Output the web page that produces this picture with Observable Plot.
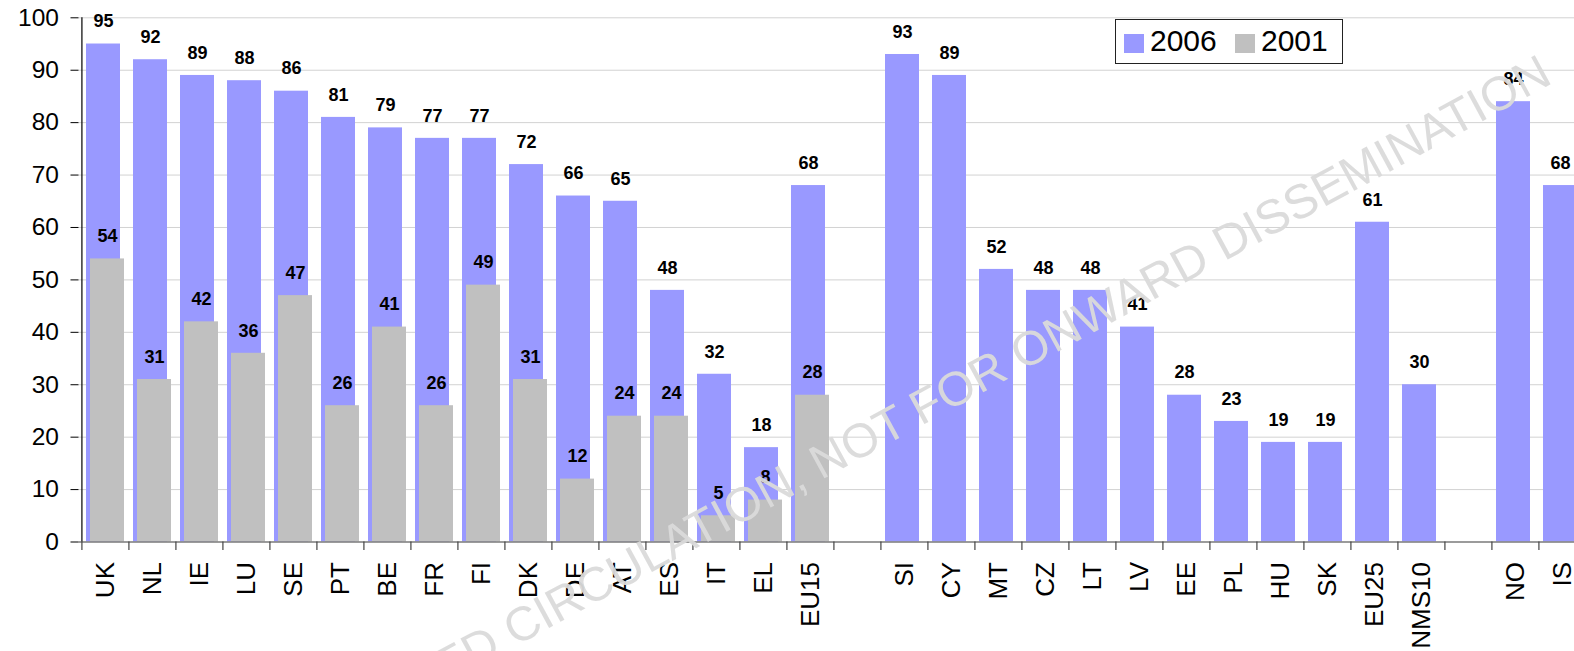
<!DOCTYPE html>
<html>
<head>
<meta charset="utf-8">
<script src="https://cdn.jsdelivr.net/npm/d3@7"></script>
<script src="https://cdn.jsdelivr.net/npm/@observablehq/plot@0.6"></script>
<style>
  html, body { margin: 0; padding: 0; background: #fff; width: 1574px; height: 651px; overflow: hidden; }
  #wrap { position: relative; width: 1574px; height: 651px; overflow: hidden; font-family: Arial, "Liberation Sans", sans-serif; }
  #chart { position: absolute; left: 0; top: 0; width: 1600px; }
  #chart svg { max-width: none !important; height: 651px !important; }
  #legend { position: absolute; left: 1115px; top: 19px; width: 226px; height: 43px; border: 1px solid #222; background: #fff; font-size: 30px; color: #000; }
  #legend .sw { position: absolute; top: 14px; width: 20px; height: 19px; }
  #legend .lb { position: absolute; top: 4px; line-height: 34px; }
  #wm { position: absolute; left: 0; top: 0; pointer-events: none; }
</style>
</head>
<body>
<div id="wrap">
  <div id="chart"></div>
  <div id="legend"></div>
  <svg id="wm" width="1574" height="651"></svg>
</div>
<script>
// ---- data ----
const groupEU15 = ["UK","NL","IE","LU","SE","PT","BE","FR","FI","DK","DE","AT","ES","IT","EL","EU15"];
const groupNMS = ["SI","CY","MT","CZ","LT","LV","EE","PL","HU","SK","EU25","NMS10"];
const groupOther = ["NO","IS"];
const values2006EU15 = [95,92,89,88,86,81,79,77,77,72,66,65,48,32,18,68];
const values2006NMS = [93,89,52,48,48,41,28,23,19,19,61,30];
const values2006Other = [84,68];
const values2001EU15 = [54,31,42,36,47,26,41,26,49,31,12,24,24,5,8,28];
const seriesNames = ["2006","2001"];
const seriesColors = ["#9999ff","#c0c0c0"];
const yTicks = [0,10,20,30,40,50,60,70,80,90,100];
const watermark = "LIMITED CIRCULATION, NOT FOR ONWARD DISSEMINATION";

// ---- build tables ----
const gapA = "gap-a", gapB = "gap-b";
const domain = [...groupEU15, gapA, ...groupNMS, gapB, ...groupOther];
const d2006 = [
  ...groupEU15.map((c,i)=>({cat:c, value:values2006EU15[i]})),
  ...groupNMS.map((c,i)=>({cat:c, value:values2006NMS[i]})),
  ...groupOther.map((c,i)=>({cat:c, value:values2006Other[i]}))
];
const d2001 = groupEU15.map((c,i)=>({cat:c, value:values2001EU15[i]}));

const W = 1600, H = 651;
const mL = 78.5, mT = 17.3, mB = 109.5;
const step = 47.17;
const mR = W - mL - step*domain.length;
const font = 'Arial, "Liberation Sans", sans-serif';

const chart = Plot.plot({
  width: W, height: H,
  marginLeft: mL, marginRight: mR, marginTop: mT, marginBottom: mB,
  style: {fontFamily: font, background: "white", color: "#000", overflow: "visible", maxWidth: "none"},
  x: {domain, paddingInner: 0.28, paddingOuter: 0.14, align: 0.5, label: null},
  y: {domain: [0,100], label: null},
  marks: [
    Plot.gridY(yTicks.filter(t=>t>0), {stroke: "#d2d2d2", strokeOpacity: 1, strokeWidth: 1}),
    Plot.barY(d2006, {x: "cat", y: "value", fill: seriesColors[0], dx: -2}),
    Plot.barY(d2001, {x: "cat", y: "value", fill: seriesColors[1], dx: 2}),
    Plot.ruleY([0], {stroke: "#7a7a7a", strokeWidth: 1.3}),
    Plot.ruleX([domain[0]], {y1: 0, y2: 100, dx: -step/2, stroke: "#000", strokeWidth: 1.2}),
    Plot.ruleX(domain, {y1: 0, y2: -1.6, dx: -step/2, stroke: "#444", strokeWidth: 1.2}),
    Plot.axisY(yTicks, {tickSize: 8, tickPadding: 12, fontSize: 24.5, stroke: "#000", label: null, fill: "#000"}),
    Plot.axisX({tickSize: 0, tickPadding: 20, tickRotate: -90, fontSize: 26, label: null, fill: "#000",
      tickFormat: d => (d === gapA || d === gapB) ? "" : d}),
    Plot.text(d2006, {x: "cat", y: "value", text: d => String(d.value), dx: -2, dy: -22.5,
      lineAnchor: "middle", fontWeight: "bold", fontSize: 18, fill: "#000"}),
    Plot.text(d2001, {x: "cat", y: "value", text: d => String(d.value), dx: 2, dy: -22.5,
      lineAnchor: "middle", fontWeight: "bold", fontSize: 18, fill: "#000"})
  ]
});
document.getElementById("chart").appendChild(chart);

// ---- legend ----
const legend = document.getElementById("legend");
const lpos = [{sw: 8, lb: 34}, {sw: 119, lb: 145}];
seriesNames.forEach((n,i) => {
  const s = document.createElement("div");
  s.className = "sw"; s.style.left = lpos[i].sw + "px"; s.style.background = seriesColors[i];
  legend.appendChild(s);
  const t = document.createElement("div");
  t.className = "lb"; t.style.left = lpos[i].lb + "px"; t.textContent = n;
  legend.appendChild(t);
});

// ---- watermark ----
const wm = d3.select("#wm");
wm.append("text")
  .attr("x", 1546).attr("y", 68)
  .attr("text-anchor", "end")
  .attr("dominant-baseline", "central")
  .attr("transform", "rotate(-28.5 1546 68)")
  .attr("font-family", font)
  .attr("font-size", 48)
  .attr("fill", "#dadada")
  .attr("fill-opacity", 0.95)
  .text(watermark);
</script>
</body>
</html>
